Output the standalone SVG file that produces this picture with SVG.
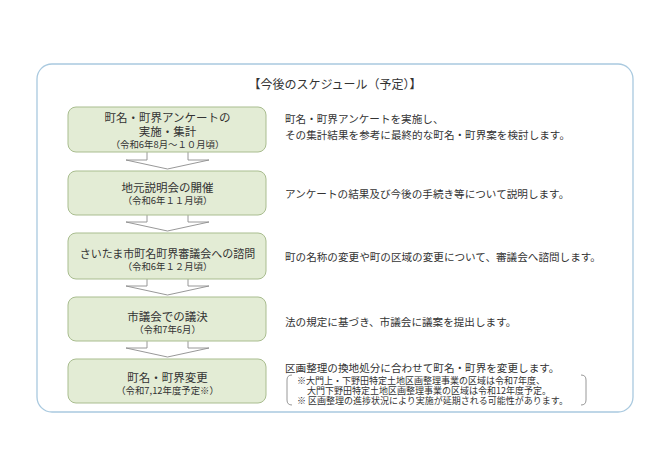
<svg xmlns="http://www.w3.org/2000/svg" width="670" height="474" viewBox="0 0 670 474">
<style>
text{font-family:"Noto Sans CJK JP","Noto Sans",sans-serif;fill:#333;dominant-baseline:central}
.box{fill:#e3ecd5;stroke:#a9bd8f;stroke-width:1}
.t{font-size:11.5px;text-anchor:middle}
.s{font-size:9.4px;text-anchor:middle}
.r{font-size:10.6px}
.n{font-size:9px}
.arr{fill:#fff;stroke:#8c8c8c;stroke-width:0.9}
.br{fill:none;stroke:#8c8c8c;stroke-width:0.9}
</style>
<rect width="670" height="474" fill="#fff"/>
<rect id="frame" x="37" y="64" width="596" height="348" rx="15" fill="#fff" stroke="#a9c9df" stroke-width="1.3"/>
<text id="title" x="335" y="83" style="font-size:12px;text-anchor:middle">【今後のスケジュール（予定）】</text>
<g id="connectors">
<path class="arr" d="M147,152 V160 H126 L167.5,169 L209,160 H188 V152"/>
<path class="arr" d="M147,215 V222 H126 L167.5,231 L209,222 H188 V215"/>
<path class="arr" d="M147,279 V286 H126 L167.5,295 L209,286 H188 V279"/>
<path class="arr" d="M147,341 V348 H126 L167.5,357 L209,348 H188 V341"/>
</g>
<g id="step1">
<rect class="box" x="68" y="107" width="198" height="45" rx="8"/>
<text class="t" x="167.5" y="117">町名・町界アンケートの</text>
<text class="t" x="167.5" y="131">実施・集計</text>
<text class="s" x="167.5" y="144">（令和6年8月～１０月頃）</text>
</g>
<g id="step2">
<rect class="box" x="68" y="171" width="198" height="44" rx="8"/>
<text class="t" x="167.5" y="187">地元説明会の開催</text>
<text class="s" x="167.5" y="200">（令和6年１１月頃）</text>
</g>
<g id="step3">
<rect class="box" x="68" y="233" width="198" height="46" rx="8"/>
<text class="t" x="167.5" y="253" style="font-size:11px">さいたま市町名町界審議会への諮問</text>
<text class="s" x="167.5" y="266">（令和6年１２月頃）</text>
</g>
<g id="step4">
<rect class="box" x="68" y="297" width="198" height="44" rx="8"/>
<text class="t" x="167.5" y="316">市議会での議決</text>
<text class="s" x="167.5" y="329">（令和7年6月）</text>
</g>
<g id="step5">
<rect class="box" x="68" y="359" width="198" height="44" rx="8"/>
<text class="t" x="167.5" y="377">町名・町界変更</text>
<text class="s" x="167.5" y="390">（令和7,12年度予定※）</text>
</g>
<g id="desc1">
<text class="r" x="285" y="118">町名・町界アンケートを実施し、</text>
<text class="r" x="285" y="134">その集計結果を参考に最終的な町名・町界案を検討します。</text>
</g>
<g id="desc2">
<text class="r" x="285" y="193">アンケートの結果及び今後の手続き等について説明します。</text>
</g>
<g id="desc3">
<text class="r" x="285" y="256">町の名称の変更や町の区域の変更について、審議会へ諮問します。</text>
</g>
<g id="desc4">
<text class="r" x="285" y="321">法の規定に基づき、市議会に議案を提出します。</text>
</g>
<g id="desc5">
<text class="r" x="285" y="367">区画整理の換地処分に合わせて町名・町界を変更します。</text>
<path class="br" d="M292,375 Q287,375 287,380 V400 Q287,405 292,405"/>
<path class="br" d="M581,375 Q586,375 586,380 V400 Q586,405 581,405"/>
<text class="n" x="297" y="380">※大門上・下野田特定土地区画整理事業の区域は令和7年度、</text>
<text class="n" x="307" y="390">大門下野田特定土地区画整理事業の区域は令和12年度予定。</text>
<text class="n" x="297" y="400">※ 区画整理の進捗状況により実施が延期される可能性があります。</text>
</g>
</svg>
